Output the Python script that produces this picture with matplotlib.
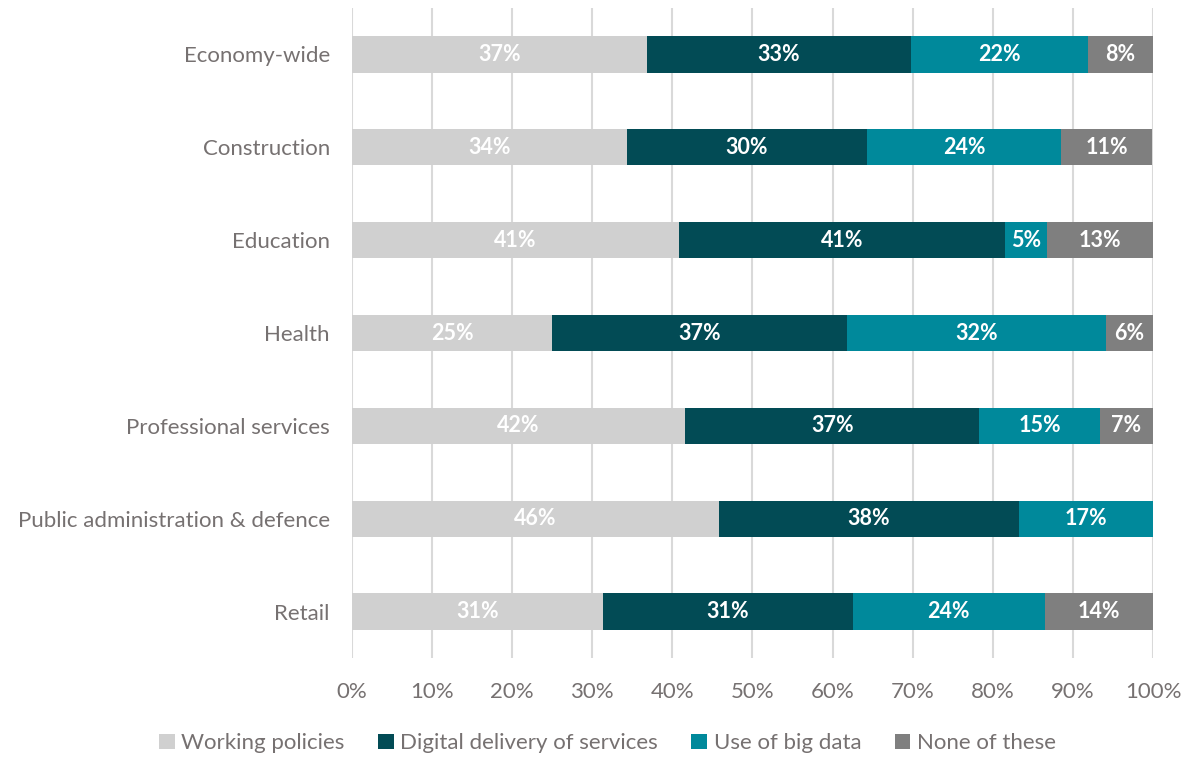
import matplotlib.pyplot as plt
import numpy as np

plt.rcParams["font.family"] = ["Lato", "DejaVu Sans"]

sectors = [
    "Economy-wide",
    "Construction",
    "Education",
    "Health",
    "Professional services",
    "Public administration & defence",
    "Retail",
]
series_names = [
    "Working policies",
    "Digital delivery of services",
    "Use of big data",
    "None of these",
]
working = [36.8, 34.3, 40.8, 25.0, 41.6, 45.8, 31.3]
digital = [33.0, 30.0, 40.7, 36.8, 36.7, 37.5, 31.2]
big_data = [22.1, 24.2, 5.3, 32.3, 15.1, 16.7, 24.0]
none_of = [8.1, 11.4, 13.2, 5.9, 6.6, 0.0, 13.6]

colors = ["#D0D0D0", "#024B55", "#00899B", "#7F7F7F"]
text_grey = "#767171"

fig = plt.figure(figsize=(12.03, 7.57), dpi=100)
ax = fig.add_axes([0.2926, 0.1308, 0.6658, 0.8586])

y = np.arange(len(sectors))
left = np.zeros(len(sectors))
for name, vals, col in zip(series_names, [working, digital, big_data, none_of], colors):
    vals = np.array(vals)
    ax.barh(y, vals, left=left, height=0.39, color=col, label=name, zorder=2)
    for yi, l, v in zip(y, left, vals):
        if v > 0:
            ax.text(l + v / 2, yi, f"{v:.0f}%", ha="center", va="center",
                    color="white", fontsize=15.5, fontweight="bold", zorder=3)
    left += vals

ax.set_xlim(0, 100)
ax.set_ylim(len(sectors) - 0.5, -0.5)
ax.set_yticks(y)
ax.set_yticklabels(sectors, fontsize=16, color=text_grey)
ax.set_xticks(np.arange(0, 101, 10))
ax.set_xticklabels([f"{t}%" for t in range(0, 101, 10)], fontsize=16, color=text_grey)
ax.tick_params(axis="both", length=0)
ax.tick_params(axis="y", pad=16)
ax.tick_params(axis="x", pad=17)
ax.grid(axis="x", color="#D9D9D9", lw=1.5, zorder=0)
for s in ax.spines.values():
    s.set_visible(False)

leg = fig.legend(loc="center", bbox_to_anchor=(0.505, 0.018), ncol=4,
                 frameon=False, fontsize=16, handlelength=0.7, handleheight=0.7,
                 handletextpad=0.3, columnspacing=1.5)
for txt in leg.get_texts():
    txt.set_color(text_grey)

fig.savefig("out.png", dpi=100)
